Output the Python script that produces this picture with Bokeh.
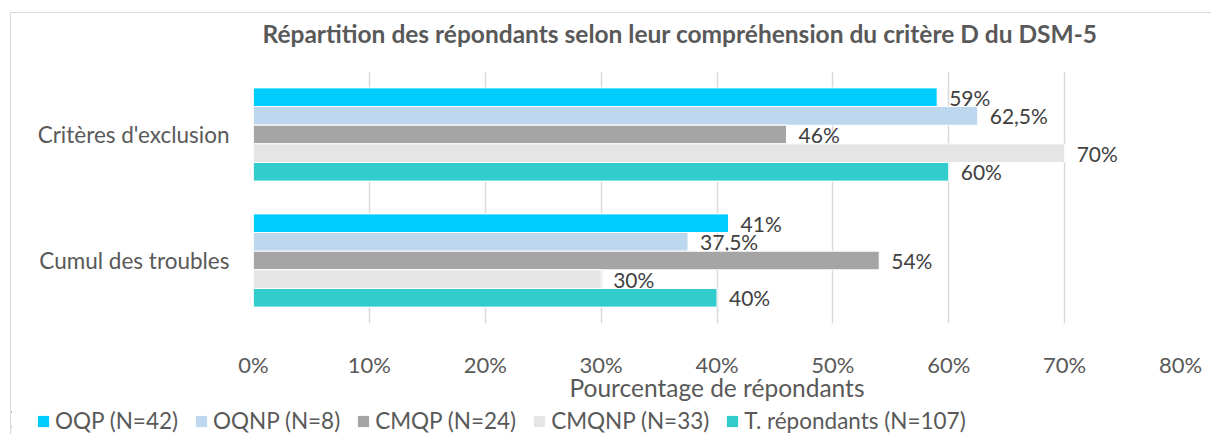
from bokeh.plotting import figure
from bokeh.layouts import column
from bokeh.models import (ColumnDataSource, FactorRange, Range1d, Legend, LegendItem,
                          PrintfTickFormatter, FixedTicker, Label)
from bokeh.transform import dodge
from bokeh.embed import file_html
from bokeh.resources import INLINE
from bokeh.core.properties import value

# ---------------- data ----------------
title_text = "Répartition des répondants selon leur compréhension du critère D du DSM-5"
categories = ["Critères d'exclusion", "Cumul des troubles"]
series = ["OQP (N=42)", "OQNP (N=8)", "CMQP (N=24)", "CMQNP (N=33)", "T. répondants (N=107)"]
oqp = [59, 41]
oqnp = [62.5, 37.5]
cmqp = [46, 54]
cmqnp = [70, 30]
total = [60, 40]
x_ticks = [0, 10, 20, 30, 40, 50, 60, 70, 80]

values = [oqp, oqnp, cmqp, cmqnp, total]
colors = ["#00CCFF", "#BDD7EE", "#A5A5A5", "#E5E5E5", "#33CCCC"]

FONT = "Lato"
GREY = "#595959"
W = 1200

def strip(height, **kw):
    f = figure(width=W, height=height, output_backend="svg", toolbar_location=None,
               x_axis_location=None, y_axis_location=None,
               min_border_left=0, min_border_right=0, min_border_top=0, min_border_bottom=0,
               **kw)
    f.frame_align = False
    f.grid.grid_line_color = None
    f.outline_line_color = None
    return f

# ---- title strip ----
tt = strip(48, x_range=Range1d(0, 1), y_range=Range1d(0, 1))
tt.add_layout(Label(x=251, y=28, x_units="screen", y_units="screen", text=title_text,
                    text_font=FONT, text_font_size="24.5px", text_font_style="bold",
                    text_color=GREY, text_baseline="middle", text_align="left"))

# ---- main plot ----
p = figure(width=W, height=343, output_backend="svg", toolbar_location=None,
           y_range=FactorRange(factors=categories[::-1], range_padding=0, factor_padding=0),
           x_range=Range1d(0, 80),
           min_border_left=242, min_border_right=31, min_border_top=10, min_border_bottom=73)
p.frame_align = False

# ---- legend strip (separate canvas so the legend can sit left of the plot frame) ----
lg = strip(30, x_range=Range1d(1000, 1100), y_range=FactorRange(factors=categories[::-1]))

bar_h = 0.148
offsets = [2 * bar_h, bar_h, 0, -bar_h, -2 * bar_h]

def fmt(v):
    s = ("%g" % v).replace(".", ",")
    return s + "%"

items = []
for name, vals, col, off in zip(series, values, colors, offsets):
    src = ColumnDataSource(dict(cat=categories, val=vals, lab=[fmt(v) for v in vals]))
    p.hbar(y=dodge("cat", off, range=p.y_range), left=0, right="val", height=bar_h,
           source=src, fill_color=col, line_color="white", line_width=1)
    p.text(x="val", y=dodge("cat", off, range=p.y_range), text="lab", source=src,
           x_offset=12, text_baseline="middle", text_align="left",
           text_font=value(FONT), text_font_size="21px", text_color="#404040")
    # same bars on the legend strip (outside its visible range) to feed the legend
    r = lg.hbar(y="cat", left=0, right="val", height=bar_h, source=src,
                fill_color=col, line_color=None)
    items.append(LegendItem(label=name, renderers=[r]))

legend = Legend(items=items, orientation="horizontal", location=(25, 0),
                glyph_width=14, glyph_height=14, label_standoff=5, spacing=16,
                padding=0, margin=0, border_line_color=None, background_fill_alpha=0,
                label_text_font=FONT, label_text_font_size="22.5px", label_text_color=GREY,
                label_height=20)
lg.add_layout(legend, "center")

# axes
p.xaxis.ticker = FixedTicker(ticks=x_ticks)
p.xaxis.formatter = PrintfTickFormatter(format="%d%%")
p.xaxis.axis_line_color = None
p.xaxis.major_tick_line_color = None
p.xaxis.minor_tick_line_color = None
p.xaxis.major_label_text_font = FONT
p.xaxis.major_label_text_font_size = "22px"
p.xaxis.major_label_text_color = GREY
p.xaxis.major_label_standoff = 21
p.xaxis.axis_label = "Pourcentage de répondants"
p.xaxis.axis_label_text_font = FONT
p.xaxis.axis_label_text_font_size = "24.5px"
p.xaxis.axis_label_text_font_style = "normal"
p.xaxis.axis_label_text_color = GREY
p.xaxis.axis_label_standoff = -8

p.yaxis.axis_line_color = None
p.yaxis.major_tick_line_color = None
p.yaxis.minor_tick_line_color = None
p.yaxis.major_label_text_font = FONT
p.yaxis.major_label_text_font_size = "22.5px"
p.yaxis.major_label_text_color = GREY
p.yaxis.major_label_standoff = 18

p.xgrid.grid_line_color = "#D9D9D9"
p.xgrid.grid_line_width = 1.5
p.ygrid.grid_line_color = None
p.outline_line_color = None

layout = column(tt, p, lg, spacing=0, margin=(12, 0, 0, 10),
                styles={"border-top": "1px solid #D9D9D9", "border-left": "1px solid #D9D9D9"})
open("out.html", "w").write(file_html(layout, INLINE))
